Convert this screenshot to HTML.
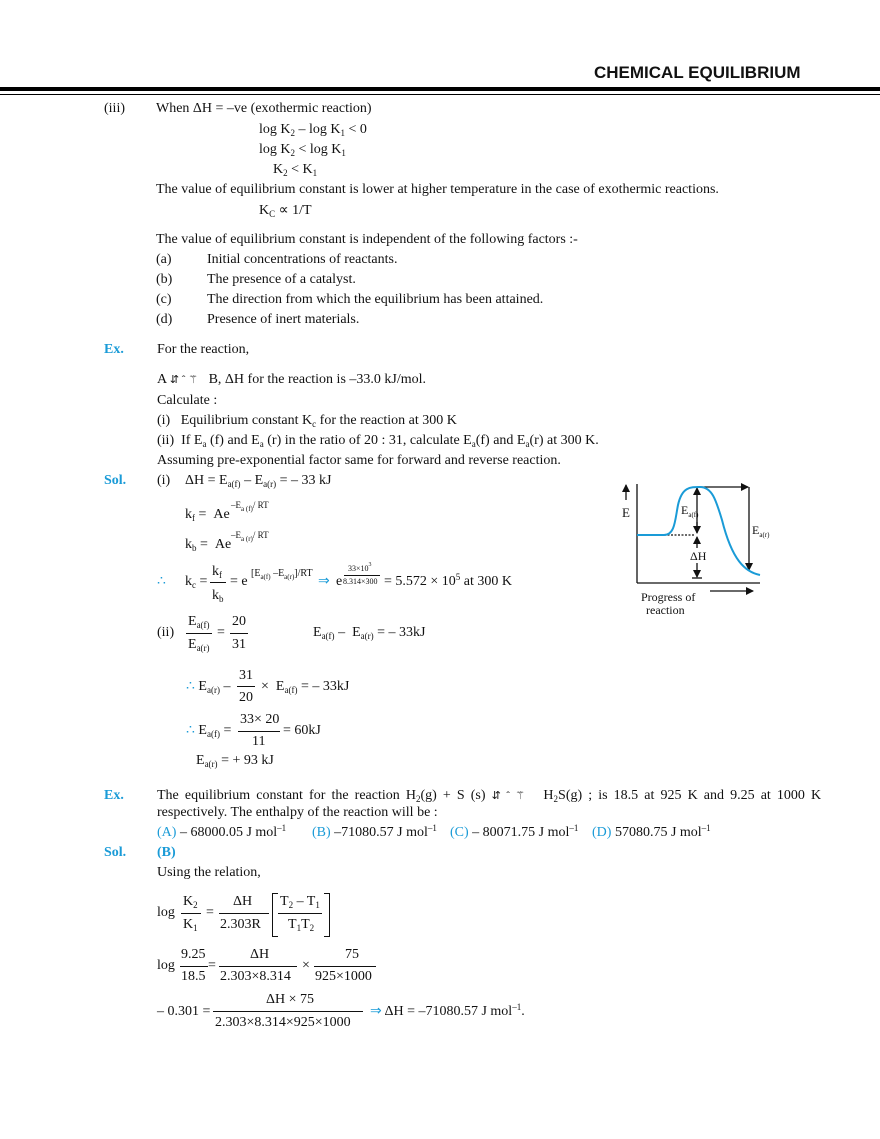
<!DOCTYPE html>
<html><head><meta charset="utf-8"><style>
body{margin:0;width:880px;height:1139px;background:#fff;position:relative;font-family:"Liberation Serif",serif;font-size:14px;color:#111;overflow:hidden}
.t{position:absolute;white-space:nowrap;line-height:16px}
sub{font-size:9px;vertical-align:-3px;line-height:0}
sup{font-size:9px;vertical-align:5px;line-height:0}
.b{color:#1a9bd7;font-weight:bold}
.bl{color:#1a9bd7}
.ln{position:absolute;height:1px;background:#111}
</style></head><body>
<div class="t" style="left:594px;top:64px;font-family:'Liberation Sans',sans-serif;font-weight:bold;font-size:17px;line-height:18px">CHEMICAL EQUILIBRIUM</div>
<div style="position:absolute;left:0;top:87px;width:880px;height:4px;background:#000"></div>
<div style="position:absolute;left:0;top:94px;width:880px;height:1px;background:#000"></div>

<div class="t" style="left:104px;top:101px">(iii)</div>
<div class="t" style="left:156px;top:101px">When ΔH = –ve (exothermic reaction)</div>
<div class="t" style="left:259px;top:122px">log K<sub>2</sub> – log K<sub>1</sub> &lt; 0</div>
<div class="t" style="left:259px;top:142px">log K<sub>2</sub> &lt; log K<sub>1</sub></div>
<div class="t" style="left:273px;top:162px">K<sub>2</sub> &lt; K<sub>1</sub></div>
<div class="t" style="left:156px;top:182px">The value of equilibrium constant is lower at higher temperature in the case of exothermic reactions.</div>
<div class="t" style="left:259px;top:203px">K<sub>C</sub> ∝ 1/T</div>
<div class="t" style="left:156px;top:232px">The value of equilibrium constant is independent of the following factors :-</div>
<div class="t" style="left:156px;top:252px">(a)</div><div class="t" style="left:207px;top:252px">Initial concentrations of reactants.</div>
<div class="t" style="left:156px;top:272px">(b)</div><div class="t" style="left:207px;top:272px">The presence of a catalyst.</div>
<div class="t" style="left:156px;top:292px">(c)</div><div class="t" style="left:207px;top:292px">The direction from which the equilibrium has been attained.</div>
<div class="t" style="left:156px;top:312px">(d)</div><div class="t" style="left:207px;top:312px">Presence of inert materials.</div>

<div class="t b" style="left:104px;top:342px">Ex.</div>
<div class="t" style="left:157px;top:342px">For the reaction,</div>
<div class="t" style="left:157px;top:372px">A <span style="font-size:11px">⇵ ˆ ⚚</span> &nbsp;&nbsp;B, ΔH for the reaction is –33.0 kJ/mol.</div>
<div class="t" style="left:157px;top:393px">Calculate :</div>
<div class="t" style="left:157px;top:413px">(i)&nbsp;&nbsp;&nbsp;Equilibrium constant K<sub>c</sub> for the reaction at 300 K</div>
<div class="t" style="left:157px;top:433px">(ii)&nbsp;&nbsp;If E<sub>a</sub> (f) and E<sub>a</sub> (r) in the ratio of 20 : 31, calculate E<sub>a</sub>(f) and E<sub>a</sub>(r) at 300 K.</div>
<div class="t" style="left:157px;top:453px">Assuming pre-exponential factor same for forward and reverse reaction.</div>

<div class="t b" style="left:104px;top:473px">Sol.</div>
<div class="t" style="left:157px;top:473px">(i)</div>
<div class="t" style="left:185px;top:473px">ΔH = E<sub>a(f)</sub> – E<sub>a(r)</sub> = – 33 kJ</div>
<div class="t" style="left:185px;top:507px">k<sub>f</sub> = &nbsp;Ae</div>
<div class="t" style="left:231px;top:497px;font-size:9px">–E<sub style="font-size:7px">a (f)</sub>/ RT</div>
<div class="t" style="left:185px;top:537px">k<sub>b</sub> = &nbsp;Ae</div>
<div class="t" style="left:231px;top:527px;font-size:9px">–E<sub style="font-size:7px">a (r)</sub>/ RT</div>

<div class="t bl" style="left:157px;top:574px">∴</div>
<div class="t" style="left:185px;top:574px">k<sub>c</sub> =</div>
<div class="t" style="left:212px;top:564px">k<sub>f</sub></div>
<div class="ln" style="left:210px;top:582px;width:16px"></div>
<div class="t" style="left:212px;top:588px">k<sub>b</sub></div>
<div class="t" style="left:230px;top:574px">= e</div>
<div class="t" style="left:251px;top:566px;font-size:10px">[E<sub style="font-size:7px">a(f)</sub> –E<sub style="font-size:7px">a(r)</sub>]/RT</div>
<div class="t bl" style="left:318px;top:574px">⇒</div>
<div class="t" style="left:336px;top:574px">e</div>
<div class="t" style="left:348px;top:561px;font-size:8px">33×10<sup style="font-size:6px">3</sup></div>
<div class="ln" style="left:344px;top:575px;width:36px;height:1px"></div>
<div class="t" style="left:343px;top:574px;font-size:8px">8.314×300</div>
<div class="t" style="left:384px;top:574px">= 5.572 × 10<sup>5</sup> at 300 K</div>

<div class="t" style="left:157px;top:625px">(ii)</div>
<div class="t" style="left:188px;top:614px">E<sub>a(f)</sub></div>
<div class="ln" style="left:186px;top:633px;width:26px"></div>
<div class="t" style="left:188px;top:637px">E<sub>a(r)</sub></div>
<div class="t" style="left:217px;top:625px">=</div>
<div class="t" style="left:232px;top:614px">20</div>
<div class="ln" style="left:230px;top:633px;width:18px"></div>
<div class="t" style="left:232px;top:637px">31</div>
<div class="t" style="left:313px;top:625px">E<sub>a(f)</sub> – &nbsp;E<sub>a(r)</sub> = – 33kJ</div>

<div class="t" style="left:186px;top:679px"><span class="bl">∴</span> E<sub>a(r)</sub> –</div>
<div class="t" style="left:239px;top:668px">31</div>
<div class="ln" style="left:237px;top:686px;width:18px"></div>
<div class="t" style="left:239px;top:690px">20</div>
<div class="t" style="left:261px;top:679px">× &nbsp;E<sub>a(f)</sub> = – 33kJ</div>

<div class="t" style="left:186px;top:723px"><span class="bl">∴</span> E<sub>a(f)</sub> =</div>
<div class="t" style="left:240px;top:712px">33× 20</div>
<div class="ln" style="left:238px;top:731px;width:42px"></div>
<div class="t" style="left:252px;top:734px">11</div>
<div class="t" style="left:283px;top:723px">= 60kJ</div>
<div class="t" style="left:196px;top:753px">E<sub>a(r)</sub> = + 93 kJ</div>

<div class="t b" style="left:104px;top:788px">Ex.</div>
<div class="t" style="left:157px;top:788px;word-spacing:2.6px">The equilibrium constant for the reaction H<sub>2</sub>(g) + S (s) <span style="font-size:11px">⇵ ˆ ⚚</span> &nbsp;&nbsp;H<sub>2</sub>S(g) ; is 18.5 at 925 K and 9.25 at 1000 K</div>
<div class="t" style="left:157px;top:805px">respectively. The enthalpy of the reaction will be :</div>
<div class="t" style="left:157px;top:825px"><span class="bl">(A)</span> – 68000.05 J mol<sup>–1</sup></div>
<div class="t" style="left:312px;top:825px"><span class="bl">(B)</span> –71080.57 J mol<sup>–1</sup></div>
<div class="t" style="left:450px;top:825px"><span class="bl">(C)</span> – 80071.75 J mol<sup>–1</sup></div>
<div class="t" style="left:592px;top:825px"><span class="bl">(D)</span> 57080.75 J mol<sup>–1</sup></div>
<div class="t b" style="left:104px;top:845px">Sol.</div>
<div class="t b" style="left:157px;top:845px">(B)</div>
<div class="t" style="left:157px;top:865px">Using the relation,</div>

<div class="t" style="left:157px;top:905px">log</div>
<div class="t" style="left:183px;top:894px">K<sub>2</sub></div>
<div class="ln" style="left:181px;top:913px;width:20px"></div>
<div class="t" style="left:183px;top:917px">K<sub>1</sub></div>
<div class="t" style="left:206px;top:905px">=</div>
<div class="t" style="left:233px;top:894px">ΔH</div>
<div class="ln" style="left:219px;top:913px;width:50px"></div>
<div class="t" style="left:220px;top:917px">2.303R</div>
<div style="position:absolute;left:272px;top:893px;width:5px;height:42px;border:1px solid #111;border-right:none"></div>
<div class="t" style="left:280px;top:894px">T<sub>2</sub> – T<sub>1</sub></div>
<div class="ln" style="left:278px;top:913px;width:44px"></div>
<div class="t" style="left:288px;top:917px">T<sub>1</sub>T<sub>2</sub></div>
<div style="position:absolute;left:324px;top:893px;width:5px;height:42px;border:1px solid #111;border-left:none"></div>

<div class="t" style="left:157px;top:958px">log</div>
<div class="t" style="left:181px;top:947px">9.25</div>
<div class="ln" style="left:180px;top:966px;width:28px"></div>
<div class="t" style="left:181px;top:969px">18.5</div>
<div class="t" style="left:208px;top:958px">=</div>
<div class="t" style="left:250px;top:947px">ΔH</div>
<div class="ln" style="left:219px;top:966px;width:78px"></div>
<div class="t" style="left:220px;top:969px">2.303×8.314</div>
<div class="t" style="left:302px;top:958px">×</div>
<div class="t" style="left:345px;top:947px">75</div>
<div class="ln" style="left:314px;top:966px;width:62px"></div>
<div class="t" style="left:315px;top:969px">925×1000</div>

<div class="t" style="left:157px;top:1004px">– 0.301 =</div>
<div class="t" style="left:266px;top:992px">ΔH × 75</div>
<div class="ln" style="left:213px;top:1011px;width:150px"></div>
<div class="t" style="left:215px;top:1015px">2.303×8.314×925×1000</div>
<div class="t" style="left:370px;top:1004px"><span class="bl">⇒</span> ΔH = –71080.57 J mol<sup>–1</sup>.</div>

<svg style="position:absolute;left:0;top:0" width="880" height="1139">
<defs><marker id="a" markerWidth="8" markerHeight="8" refX="7" refY="4" orient="auto" markerUnits="userSpaceOnUse"><path d="M0,0 L8,4 L0,8z" fill="#111"/></marker></defs>
<g stroke="#111" stroke-width="1.3" fill="none">
<line x1="637" y1="484" x2="637" y2="583"/>
<line x1="637" y1="583" x2="760" y2="583"/>
<line x1="626" y1="500" x2="626" y2="485" marker-end="url(#a)"/>
<line x1="697" y1="487" x2="748" y2="487" marker-end="url(#a)"/>
<line x1="749" y1="487" x2="749" y2="570" marker-end="url(#a)"/>
<line x1="697" y1="500" x2="697" y2="488" marker-end="url(#a)"/>
<line x1="697" y1="500" x2="697" y2="527"/>
<line x1="697" y1="522" x2="697" y2="533" marker-end="url(#a)"/>
<line x1="697" y1="548" x2="697" y2="537" marker-end="url(#a)"/>
<line x1="697" y1="563" x2="697" y2="577" marker-end="url(#a)"/>
<line x1="692" y1="578" x2="702" y2="578"/>
<line x1="664" y1="535" x2="695" y2="535" stroke-dasharray="2,1.5"/>
<line x1="710" y1="591" x2="753" y2="591" marker-end="url(#a)"/>
</g>
<path d="M637,535 L664,535 C675,535 675,520 678,505 C682,487 690,487 700,487 C712,487 716,500 722,520 C732,560 745,572 760,575" stroke="#1a9bd7" stroke-width="2" fill="none"/>
<g font-family="Liberation Serif,serif" fill="#111">
<text x="622" y="517" font-size="13">E</text>
<text x="681" y="514" font-size="12">E<tspan font-size="7" dy="3">a(f)</tspan></text>
<text x="752" y="534" font-size="12">E<tspan font-size="7" dy="3">a(r)</tspan></text>
<text x="690" y="560" font-size="12">ΔH</text>
<text x="641" y="601" font-size="12">Progress of</text>
<text x="646" y="614" font-size="12">reaction</text>
</g>
</svg>
</body></html>
